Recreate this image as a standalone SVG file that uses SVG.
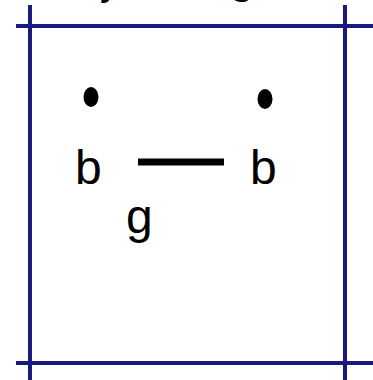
<svg xmlns="http://www.w3.org/2000/svg" width="373" height="380" viewBox="0 0 373 380">
<style>
.grid{stroke:#1a1a7e;stroke-width:4;fill:none}
.lbl{font-family:"Liberation Sans",Arial,sans-serif;fill:#000}
</style>
<rect width="373" height="380" fill="#fff"/>
<g id="grid">
<line class="grid" x1="16" y1="26" x2="373" y2="26"/>
<line class="grid" x1="16" y1="363" x2="373" y2="363"/>
<line class="grid" x1="30" y1="5" x2="30" y2="380"/>
<line class="grid" x1="345" y1="5" x2="345" y2="380"/>
</g>
<g id="cutoff">
<text class="lbl" x="100" y="-5" font-size="40">y</text>
<text class="lbl" x="229" y="-8" font-size="46">g</text>
</g>
<g id="dot-left"><ellipse cx="91" cy="97" rx="7.5" ry="10" fill="#000"/></g>
<g id="dot-right"><ellipse cx="265" cy="99" rx="7.5" ry="10" fill="#000"/></g>
<g id="b-left"><text class="lbl" x="75" y="184" font-size="48">b</text></g>
<g id="b-right"><text class="lbl" x="250" y="184" font-size="48">b</text></g>
<g id="connectors"><line x1="138" y1="162" x2="224" y2="162" stroke="#000" stroke-width="7"/></g>
<g id="g-label"><text class="lbl" x="126" y="233" font-size="48">g</text></g>
</svg>
